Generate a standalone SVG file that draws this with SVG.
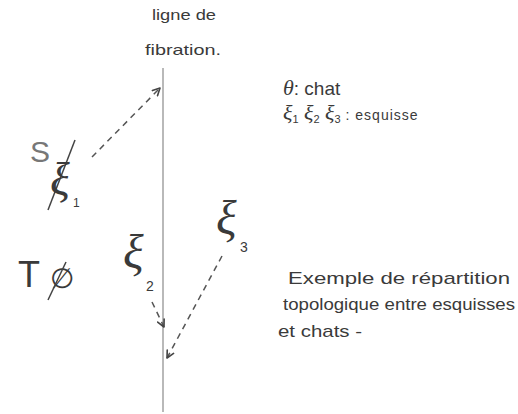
<svg xmlns="http://www.w3.org/2000/svg" width="518" height="414" viewBox="0 0 518 414">
<defs>
<style>
.t{font-family:"Liberation Sans",sans-serif;fill:#3a3a3a;}
.g{font-family:"Liberation Serif",serif;font-style:italic;fill:#3a3a3a;}
.d{stroke:#555;stroke-width:1.5;stroke-dasharray:6 5;fill:none;}
.ah{stroke:#444;stroke-width:1.8;fill:none;stroke-linecap:round;stroke-linejoin:round;}
</style>
<marker id="arr" viewBox="0 0 10 10" refX="9" refY="5" markerWidth="9" markerHeight="9" orient="auto" markerUnits="userSpaceOnUse">
<path d="M1,1 L9,5 L1,9" class="ah"/>
</marker>
</defs>
<rect width="518" height="414" fill="#ffffff"/>
<g id="fibre-line">
<line x1="163" y1="68" x2="163" y2="412" stroke="#8a8a8a" stroke-width="1.2"/>
<text class="t" x="152" y="20" font-size="15" textLength="64" lengthAdjust="spacingAndGlyphs">ligne de</text>
<text class="t" x="145" y="55" font-size="15" textLength="76" lengthAdjust="spacingAndGlyphs">fibration.</text>
</g>
<g id="legend">
<text class="t" x="283" y="95" font-size="19"><tspan class="g" font-size="22">θ</tspan>: chat</text>
<text class="t" x="283" y="120" font-size="15"><tspan class="g" font-size="22">ξ</tspan><tspan font-size="11" dy="3">1</tspan><tspan class="g" font-size="22" dy="-3"> ξ</tspan><tspan font-size="11" dy="3">2</tspan><tspan class="g" font-size="22" dy="-3"> ξ</tspan><tspan font-size="11" dy="3">3</tspan><tspan dy="-3" font-size="14" letter-spacing="1"> : esquisse</tspan></text>
</g>
<g id="node-S">
<text class="t" x="30" y="162" font-size="30" style="fill:#777">S</text>
<line x1="75" y1="140" x2="48" y2="210" stroke="#444" stroke-width="1.5"/>
<text class="g" x="50" y="195" font-size="46">ξ</text>
<text class="t" x="73" y="207" font-size="12">1</text>
</g>
<g id="node-T">
<text class="t" x="18" y="287" font-size="36">T</text>
<text class="t" x="50" y="288" font-size="28">∅</text>
<line x1="66" y1="262" x2="48" y2="300" stroke="#444" stroke-width="1.5"/>
</g>
<g id="node-xi2">
<text class="g" x="123" y="268" font-size="48">ξ</text>
<text class="t" x="146" y="291" font-size="14">2</text>
</g>
<g id="node-xi3">
<text class="g" x="216" y="234" font-size="48">ξ</text>
<text class="t" x="240" y="252" font-size="14">3</text>
</g>
<g id="connectors">
<line class="d" x1="152" y1="302" x2="164" y2="327" marker-end="url(#arr)"/>
<line class="d" x1="92" y1="157" x2="160" y2="88" marker-end="url(#arr)"/>
<line class="d" x1="222" y1="256" x2="167" y2="358" marker-end="url(#arr)"/>
</g>
<g id="caption">
<text class="t" x="288" y="284" font-size="17" textLength="222" lengthAdjust="spacingAndGlyphs">Exemple de répartition</text>
<text class="t" x="283" y="310" font-size="17" textLength="232" lengthAdjust="spacingAndGlyphs">topologique entre esquisses</text>
<text class="t" x="278" y="337" font-size="17" textLength="84" lengthAdjust="spacingAndGlyphs">et chats -</text>
</g>
</svg>
